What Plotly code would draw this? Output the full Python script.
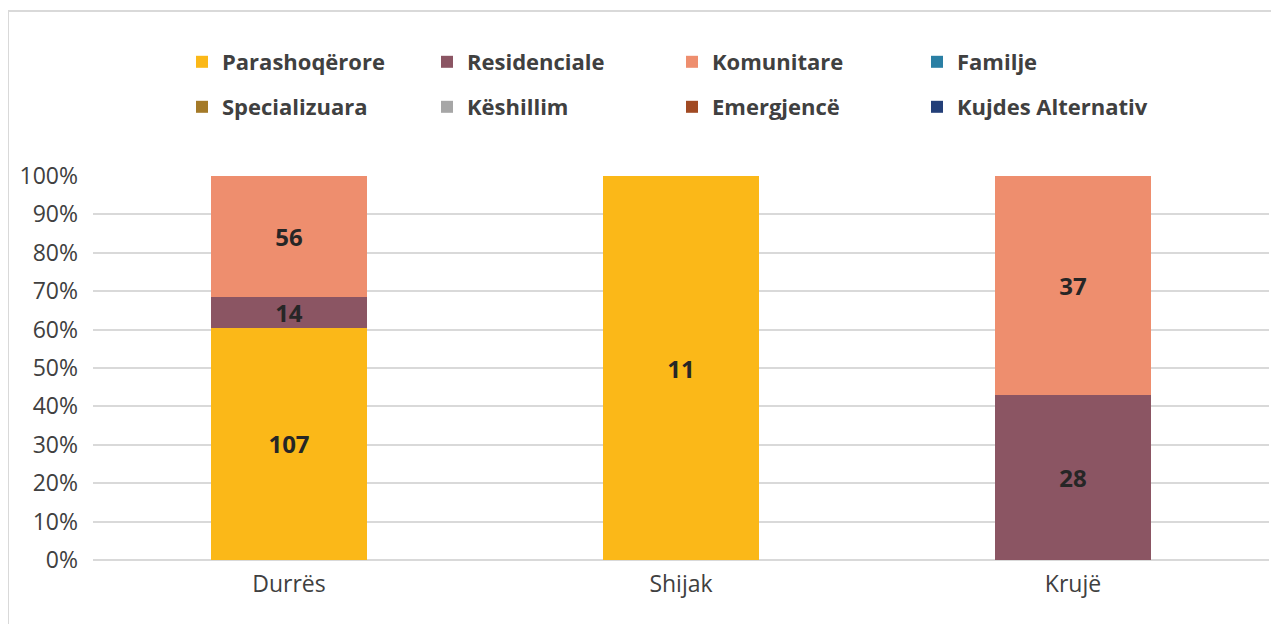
import plotly.graph_objects as go

categories = ["Durrës", "Shijak", "Krujë"]
series_names = ["Parashoqërore", "Residenciale", "Komunitare", "Familje",
                "Specializuara", "Këshillim", "Emergjencë", "Kujdes Alternativ"]
parashoqerore = [107, 11, None]
residenciale = [14, None, 28]
komunitare = [56, None, 37]
familje = [None, None, None]
specializuara = [None, None, None]
keshillim = [None, None, None]
emergjence = [None, None, None]
kujdes_alternativ = [None, None, None]
colors = ["#FBB818", "#8B5563", "#EE8E6E", "#2A7FA4",
          "#A47A28", "#A6A6A6", "#A14A23", "#233F78"]
y_ticks = [0, 10, 20, 30, 40, 50, 60, 70, 80, 90, 100]
y_tick_labels = ["0%", "10%", "20%", "30%", "40%", "50%", "60%", "70%", "80%", "90%", "100%"]

all_values = [parashoqerore, residenciale, komunitare, familje,
              specializuara, keshillim, emergjence, kujdes_alternativ]

FONT = "Open Sans"
OFF = 8  # page body margin
W, H = 1279 - OFF, 624 - OFF
# plot area in screen pixels
PL, PR, PT, PB = 93, 1269, 176, 560
ML, MT = PL - OFF, PT - OFF
MR = W - (PR - OFF)
MB = H - (PB - OFF)
PW = W - ML - MR
PH = H - MT - MB

def sx(px):
    return (px - OFF - ML) / PW

def sy(py):
    return (H - MB - (py - OFF)) / PH

fig = go.Figure()
for i, (name, vals, col) in enumerate(zip(series_names, all_values, colors)):
    fig.add_trace(go.Bar(
        x=categories, y=vals, name=name,
        marker=dict(color=col, line=dict(width=0)),
        text=[str(v) if v else "" for v in vals],
        textposition="inside", insidetextanchor="middle",
        constraintext="none", textangle=0,
        textfont=dict(family=FONT, size=24, color="#262626", weight="bold"),
        legend="legend" if i < 4 else "legend2",
        hoverinfo="skip",
    ))

legend_common = dict(
    orientation="h", entrywidth=245 / PW, entrywidthmode="fraction",
    xanchor="left", yanchor="middle",
    font=dict(family=FONT, size=22, color="#404040", weight="bold"),
    bgcolor="rgba(0,0,0,0)", itemclick=False, itemdoubleclick=False,
    traceorder="normal",
)

fig.update_layout(
    width=W, height=H,
    margin=dict(l=ML, r=MR, t=MT, b=MB),
    paper_bgcolor="white", plot_bgcolor="white",
    barmode="stack", barnorm="percent", bargap=0.6,
    uniformtext=dict(minsize=24, mode="show"),
    legend=dict(x=sx(182), y=sy(62), **legend_common),
    legend2=dict(x=sx(182), y=sy(107), **legend_common),
    xaxis=dict(
        tickfont=dict(family=FONT, size=23, color="#404040"),
        showgrid=False, ticks="", showline=False, ticklabelstandoff=8,
    ),
    yaxis=dict(
        range=[0, 100], tickmode="array", tickvals=y_ticks, ticktext=y_tick_labels,
        tickfont=dict(family=FONT, size=23, color="#404040"),
        showgrid=True, gridcolor="#D9D9D9", gridwidth=1.5,
        zeroline=True, zerolinecolor="#D9D9D9", zerolinewidth=1.5,
        ticks="", ticklabelstandoff=14, fixedrange=True,
    ),
    shapes=[dict(
        type="rect", xref="paper", yref="paper",
        x0=sx(8), x1=sx(1279 + 10),
        y0=sy(624 + 10), y1=sy(11),
        line=dict(color="#D9D9D9", width=2), fillcolor="rgba(0,0,0,0)",
        layer="below",
    )],
)

fig.write_html("out.html")
